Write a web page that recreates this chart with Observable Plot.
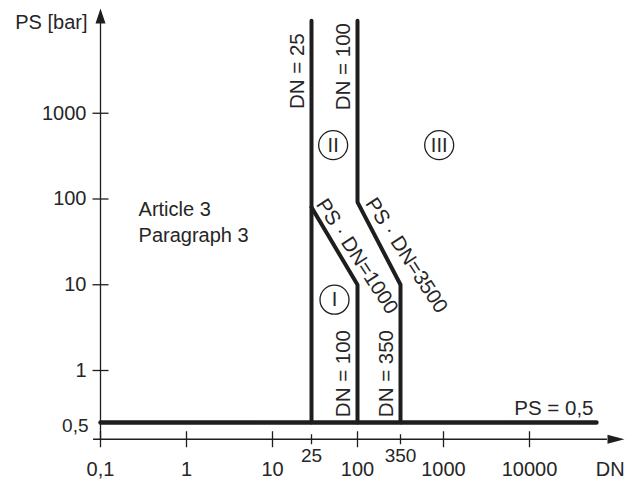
<!DOCTYPE html>
<html>
<head>
<meta charset="utf-8">
<script src="https://cdn.jsdelivr.net/npm/d3@7"></script>
<script src="https://cdn.jsdelivr.net/npm/@observablehq/plot@0.6"></script>
<style>
  html, body { margin: 0; padding: 0; background: #fff; }
  #chart svg { display: block; }
</style>
</head>
<body>
<div id="chart"></div>
<script>
// ---- data (log–log schematic, DN vs PS) ----
const xTickValues = [0.1, 1, 10, 100, 1000, 10000];
const xTickLabels = ["0,1", "1", "10", "100", "1000", "10000"];
const xMinorValues = [25, 350];
const xMinorLabels = ["25", "350"];
const yTickValues = [1, 10, 100, 1000];
const yTickLabels = ["1", "10", "100", "1000"];
const yFloorValue = 0.5;
const yFloorLabel = "0,5";

// boundary lines (DN, PS)
const floorDN = [0.1, 60000];
const floorPS = [0.5, 0.5];
const dn25DN = [25, 25];
const dn25PS = [0.5, 12000];
const ps1000DN = [25, 100, 100];
const ps1000PS = [80, 10, 0.5];
const ps3500DN = [100, 100, 350, 350];
const ps3500PS = [12000, 92, 10, 0.5];

// region markers
const regionLabels = ["I", "II", "III"];
const regionDN = [50, 48, 900];
const regionPS = [6.7, 425, 425];

// annotations
const vertLabels = ["DN = 25", "DN = 100", "DN = 100", "DN = 350"];
const vertDN = [25, 100, 100, 350];
const vertPS = [3100, 3500, 0.96, 0.96];
const diagLabels = ["PS · DN=1000", "PS · DN=3500"];
const diagDN = [99, 405];
const diagPS = [21.5, 22];

const zip = (xs, ys) => xs.map((x, i) => ({dn: x, ps: ys[i]}));
const floorLine = zip(floorDN, floorPS);
const line25 = zip(dn25DN, dn25PS);
const line1000 = zip(ps1000DN, ps1000PS);
const line3500 = zip(ps3500DN, ps3500PS);
const regions = regionLabels.map((l, i) => ({label: l, dn: regionDN[i], ps: regionPS[i]}));
const verts = vertLabels.map((l, i) => ({label: l, dn: vertDN[i], ps: vertPS[i]}));
const diags = diagLabels.map((l, i) => ({label: l, dn: diagDN[i], ps: diagPS[i]}));
const xMajor = xTickValues.map((v, i) => ({v, label: xTickLabels[i]}));
const xMinor = xMinorValues.map((v, i) => ({v, label: xMinorLabels[i]}));
const yMajor = yTickValues.map((v, i) => ({v, label: yTickLabels[i]}));

// axis extents
const axisDNmin = 0.083, axisDNarrow = 80700;
const axisPSmin = 0.4, axisPSarrow = 11100;

// custom symbols
const vTick = {draw(c) { c.moveTo(0, -8); c.lineTo(0, 8); }};
const vTickSmall = {draw(c) { c.moveTo(0, -5); c.lineTo(0, 5); }};
const hTick = {draw(c) { c.moveTo(-8, 0); c.lineTo(8, 0); }};
const arrowUp = {draw(c) { c.moveTo(0, -15); c.lineTo(5, 0); c.lineTo(-5, 0); c.closePath(); }};
const arrowRight = {draw(c) { c.moveTo(17, 0); c.lineTo(0, 4.5); c.lineTo(0, -4.5); c.closePath(); }};

const ink = "#1e1e1e";
const textInk = "#262626";
const font = "'Liberation Sans', Arial, Helvetica, sans-serif";

const chart = Plot.plot({
  width: 627,
  height: 480,
  style: {fontFamily: font, background: "#fff", color: ink},
  x: {type: "log", domain: [0.1, 10, 25, 100, 350, 1000, 100000], range: [100, 272, 311, 357, 400, 443, 615], axis: null},
  y: {type: "log", domain: [0.5, 1, 10000], range: [422, 370, 27], axis: null},
  marks: [
    // axes
    Plot.ruleY([axisPSmin], {x1: axisDNmin, x2: axisDNarrow, y: d => d, stroke: ink, strokeWidth: 1.3}),
    Plot.ruleX([0.1], {y1: axisPSmin, y2: axisPSarrow, x: d => d, stroke: ink, strokeWidth: 1.3}),
    Plot.dot([0], {x: () => 0.1, y: () => axisPSarrow, symbol: arrowUp, fill: ink, stroke: "none"}),
    Plot.dot([0], {x: () => axisDNarrow, y: () => axisPSmin, symbol: arrowRight, fill: ink, stroke: "none"}),
    Plot.dot(xMajor, {x: "v", y: () => axisPSmin, symbol: vTick, stroke: ink, fill: "none", strokeWidth: 1.3}),
    Plot.dot(xMinor, {x: "v", y: () => axisPSmin, symbol: vTickSmall, stroke: ink, fill: "none", strokeWidth: 1.3}),
    Plot.dot(yMajor, {x: () => 0.1, y: "v", symbol: hTick, stroke: ink, fill: "none", strokeWidth: 1.3}),
    Plot.text(xMajor, {x: "v", y: () => axisPSmin, text: "label", dy: 30, fontSize: 20, fill: textInk, lineAnchor: "middle"}),
    Plot.text(xMinor, {x: "v", y: () => axisPSmin, text: "label", dy: 17, fontSize: 19, fill: textInk, lineAnchor: "middle"}),
    Plot.text(["DN"], {x: () => 87000, y: () => axisPSmin, text: d => d, dy: 30, fontSize: 20, fill: textInk, lineAnchor: "middle"}),
    Plot.text(yMajor, {x: () => 0.1, y: "v", text: "label", dx: -14, fontSize: 20, fill: textInk, textAnchor: "end", lineAnchor: "middle"}),
    Plot.text([yFloorLabel], {x: () => 0.1, y: () => yFloorValue, text: d => d, dx: -12, dy: 3, fontSize: 19, fill: textInk, textAnchor: "end", lineAnchor: "middle"}),
    Plot.text(["PS [bar]"], {x: () => 0.1, y: () => 11400, text: d => d, dx: -13, fontSize: 20, fill: textInk, textAnchor: "end", lineAnchor: "middle"}),

    // boundary lines
    Plot.line(floorLine, {x: "dn", y: "ps", stroke: ink, strokeWidth: 4.5}),
    Plot.line(line25, {x: "dn", y: "ps", stroke: ink, strokeWidth: 4}),
    Plot.line(line1000, {x: "dn", y: "ps", stroke: ink, strokeWidth: 4, strokeLinejoin: "miter"}),
    Plot.line(line3500, {x: "dn", y: "ps", stroke: ink, strokeWidth: 4, strokeLinejoin: "miter"}),

    // labels
    Plot.text(verts, {x: "dn", y: "ps", text: "label", rotate: -90, dx: -14, fontSize: 20.5, fill: textInk, lineAnchor: "middle"}),
    Plot.text(diags, {x: "dn", y: "ps", text: "label", rotate: 57, fontSize: 20.5, fill: textInk, lineAnchor: "middle"}),
    Plot.text(["Article 3\nParagraph 3"], {x: () => 0.277, y: () => 56.5, text: d => d, fontSize: 20, lineHeight: 1.3, fill: textInk, textAnchor: "start", lineAnchor: "middle"}),
    Plot.text(["PS = 0,5"], {x: () => 55500, y: () => yFloorValue, text: d => d, dy: -14, fontSize: 20.5, fill: textInk, textAnchor: "end", lineAnchor: "middle"}),

    // region circles
    Plot.dot(regions, {x: "dn", y: "ps", r: 14.5, stroke: ink, strokeWidth: 1.3, fill: "none"}),
    Plot.text(regions, {x: "dn", y: "ps", text: "label", fontSize: 20, fill: textInk, lineAnchor: "middle"})
  ]
});
document.getElementById("chart").appendChild(chart);
</script>
</body>
</html>
